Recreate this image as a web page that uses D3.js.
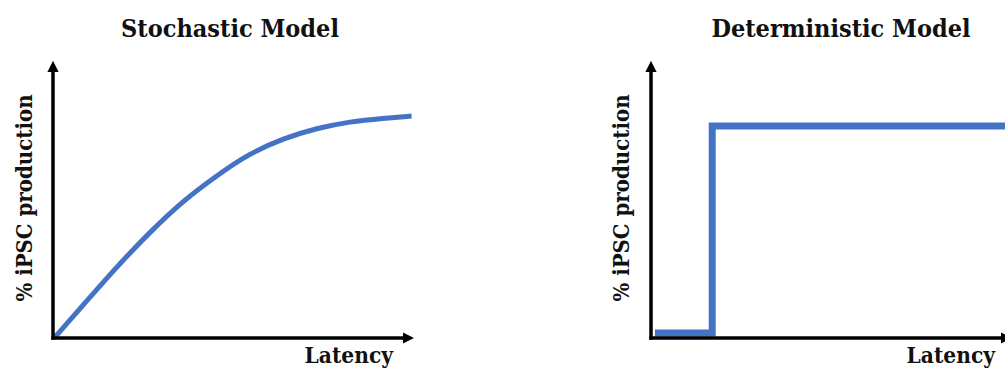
<!DOCTYPE html>
<html><head><meta charset="utf-8">
<script src="https://cdn.jsdelivr.net/npm/d3@7"></script>
<style>
body{margin:0;background:#fff;}
svg{display:block;}
text{font-family:"DejaVu Serif Condensed","DejaVu Serif",serif;font-weight:bold;fill:#111;}
</style></head>
<body>
<svg id="c" width="1005" height="369"></svg>
<script>
// Data
const titles = ["Stochastic Model", "Deterministic Model"];
const yLabel = "% iPSC production";
const xLabel = "Latency";
// Stochastic curve (latency 0-100, % production 0-100)
const stochX = [0.6, 8.4, 17.7, 26.9, 36.2, 45.5, 54.7, 64.0, 73.3, 82.5, 91.8, 99.6];
const stochY = [0.4, 12.0, 25.9, 38.5, 50.0, 59.1, 67.2, 72.6, 76.3, 78.7, 79.9, 80.7];
// Deterministic step
const detX = [1.1, 17, 17, 98.6];
const detY = [1.8, 1.8, 77.1, 77.1];

const svg = d3.select("#c");
const blue = "#4472C4";

const defs = svg.append("defs");
defs.append("marker").attr("id","ah").attr("viewBox","0 0 10 10")
  .attr("refX",0).attr("refY",5).attr("markerWidth",3.2).attr("markerHeight",4.6)
  .attr("markerUnits","strokeWidth").attr("orient","auto")
  .append("path").attr("d","M0,0 L10,5 L0,10 Z").attr("fill","#000");

const panels = [
  {x0: 53, title: titles[0], tx: 230, lx: 393, ylx: 24, xs: stochX, ys: stochY, curve: d3.curveBasis, w: 5},
  {x0: 651, title: titles[1], tx: 841, lx: 995, ylx: 621, xs: detX, ys: detY, curve: d3.curveLinear, w: 7}
];

panels.forEach(p => {
  const x = d3.scaleLinear().domain([0,100]).range([p.x0, p.x0 + 360]);
  const y = d3.scaleLinear().domain([0,100]).range([338, 63]);
  const g = svg.append("g");

  // series line
  const data = p.xs.map((v,i)=>[v, p.ys[i]]);
  g.append("path").datum(data)
    .attr("fill","none").attr("stroke",blue).attr("stroke-width",p.w)
    .attr("stroke-linejoin","miter")
    .attr("d", d3.line().x(d=>x(d[0])).y(d=>y(d[1])).curve(p.curve));

  // axes
  const ax = g.append("g").attr("transform",`translate(0,${y(0)})`)
    .call(d3.axisBottom(x).tickValues([]).tickSizeOuter(0));
  ax.select(".domain").attr("stroke","#000").attr("stroke-width",3.5)
    .attr("d", `M${x(0)-1.7},0H${x(100)-10}`).attr("marker-end","url(#ah)");
  const ay = g.append("g").attr("transform",`translate(${x(0)},0)`)
    .call(d3.axisLeft(y).tickValues([]).tickSizeOuter(0));
  ay.select(".domain").attr("stroke","#000").attr("stroke-width",3.5)
    .attr("d", `M0,${y(0)+1.7}V${y(100)+9}`).attr("marker-end","url(#ah)");

  // texts
  g.append("text").attr("x",p.tx).attr("y",37).attr("text-anchor","middle")
    .style("font-size","25px").text(p.title);
  g.append("text").attr("x",p.lx).attr("y",363).attr("text-anchor","end")
    .style("font-size","22.5px").text(xLabel);
  g.append("text").attr("transform",`translate(${p.ylx+8},198) rotate(-90)`)
    .attr("text-anchor","middle").style("font-size","22px").text(yLabel);
});
</script>
</body></html>
